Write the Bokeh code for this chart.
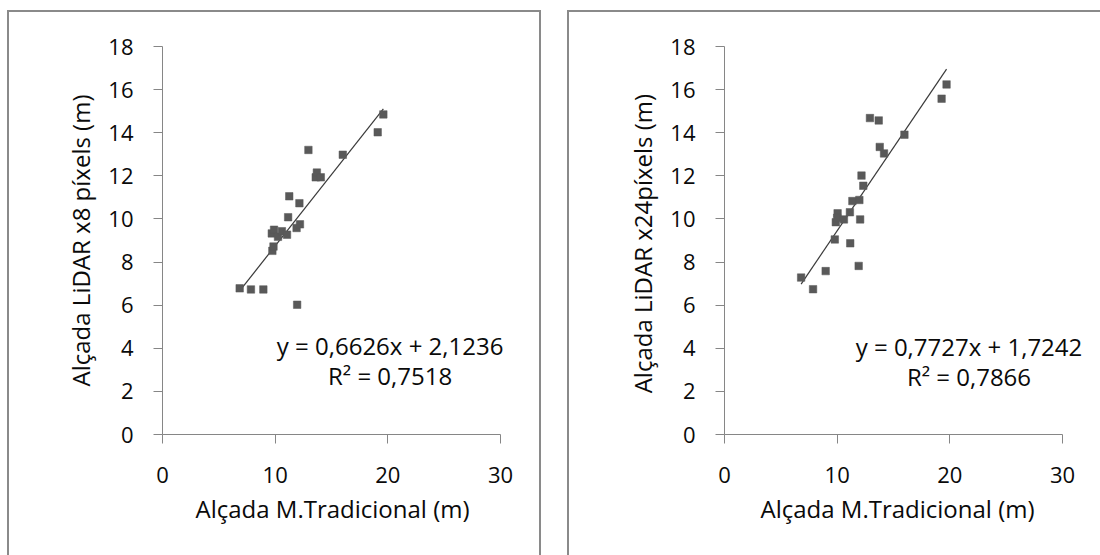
from bokeh.plotting import figure
from bokeh.layouts import row, column
from bokeh.models import Range1d, FixedTicker, Label, Div, Title
from bokeh.embed import file_html
from bokeh.resources import INLINE

# Height measured with the traditional method (m) and LiDAR estimates (m)
x_trad_8 = [6.85, 7.85, 8.95, 11.95, 9.75, 9.85, 9.70, 9.90, 10.25, 10.60, 11.05,
            11.15, 11.25, 12.15, 11.90, 12.20, 12.95, 13.60, 13.70, 14.05, 16.00,
            19.10, 19.60]
y_lidar_8 = [6.78, 6.73, 6.73, 6.02, 8.52, 8.72, 9.33, 9.50, 9.17, 9.43, 9.27,
             10.08, 11.05, 10.73, 9.58, 9.75, 13.20, 11.93, 12.15, 11.93, 12.98,
             14.02, 14.85]

x_trad_24 = [6.80, 7.86, 8.98, 11.91, 9.79, 11.16, 9.88, 10.04, 10.00, 10.60,
             11.13, 12.04, 11.35, 11.97, 12.16, 12.32, 12.91, 13.69, 13.78, 14.16,
             15.97, 19.27, 19.71]
y_lidar_24 = [7.28, 6.74, 7.58, 7.82, 9.05, 8.87, 9.85, 10.26, 10.05, 9.98,
              10.31, 9.98, 10.83, 10.88, 12.01, 11.54, 14.68, 14.57, 13.34, 13.04,
              13.91, 15.58, 16.24]

# Linear trend fits (slope, intercept, R²)
fit_8 = (0.6626, 2.1236, 0.7518)
fit_24 = (0.7727, 1.7242, 0.7866)

x_ticks = [0, 10, 20, 30]
y_ticks = [0, 2, 4, 6, 8, 10, 12, 14, 16, 18]
X_MAX = 30
Y_MAX = 18
x_title = "Alçada M.Tradicional (m)"

FONT = "Open Sans"
AXIS_GREY = "#868686"
TEXT = "#0a0a0a"


def fmt(v):
    return f"{v:.4f}".replace(".", ",")


def panel(xs, ys, fit, ytitle, borders, x_view_end, title_shift, label_x, label_ys):
    b_left, b_right, b_top, b_bottom = borders
    # the visible x window runs a little past the last tick so the fit text has
    # room; the axis line itself stops at X_MAX
    p = figure(width=550, height=555, output_backend="svg", toolbar_location=None,
               x_range=Range1d(0, x_view_end), y_range=Range1d(0, Y_MAX),
               min_border_left=b_left, min_border_right=b_right,
               min_border_top=b_top, min_border_bottom=b_bottom)
    p.outline_line_color = None
    p.xgrid.visible = False
    p.ygrid.visible = False
    p.background_fill_color = "white"
    p.border_fill_color = "white"

    for ax in (p.xaxis[0], p.yaxis[0]):
        ax.axis_line_color = AXIS_GREY
        ax.major_tick_line_color = AXIS_GREY
        ax.minor_tick_line_color = None
        ax.major_tick_out = 9
        ax.major_tick_in = 0
        ax.major_label_text_font = FONT
        ax.major_label_text_font_size = "22px"
        ax.major_label_text_color = TEXT
        ax.axis_label_text_font = FONT
        ax.axis_label_text_font_size = "24px"
        ax.axis_label_text_font_style = "normal"
        ax.axis_label_text_color = TEXT

    p.xaxis.bounds = (0, X_MAX)
    p.xaxis.ticker = FixedTicker(ticks=x_ticks)
    p.yaxis.ticker = FixedTicker(ticks=y_ticks)
    p.yaxis.axis_label = ytitle
    p.xaxis.major_label_standoff = 23
    p.yaxis.major_label_standoff = 20
    p.yaxis.axis_label_standoff = 8

    # x title sits under the axis, centred on the 0..X_MAX span
    p.add_layout(Title(text=x_title, align="left", offset=title_shift,
                       text_font=FONT, text_font_size="24px",
                       text_font_style="normal", text_color=TEXT,
                       standoff=9), "below")

    slope, intercept, r2 = fit
    x0, x1 = min(xs), max(xs)
    p.line([x0, x1], [slope * x0 + intercept, slope * x1 + intercept],
           line_color="#3a3a3a", line_width=1.2)
    p.scatter(xs, ys, marker="square", size=7.5, fill_color="#595959",
              line_color="#595959", line_width=0.5)

    eq_texts = [f"y = {fmt(slope)}x + {fmt(intercept)}", f"R² = {fmt(r2)}"]
    for txt, ly in zip(eq_texts, label_ys):
        p.add_layout(Label(x=label_x, y=ly, text=txt, text_font=FONT,
                           text_font_size="24px", text_color=TEXT,
                           text_align="center", text_baseline="middle"))
    return p


p1 = panel(x_trad_8, y_lidar_8, fit_8, "Alçada LiDAR x8 píxels (m)",
           (162, 20, 44, 119), 32.66, 33, 20.2, [4.12, 2.75])
p2 = panel(x_trad_24, y_lidar_24, fit_24, "Alçada LiDAR x24píxels  (m)",
           (174, 5, 46, 121), 32.93, 36, 21.7, [4.09, 2.70])

# Chart-area frames around each panel (open towards the page edges)
frame_css = ("position:fixed; border:2px solid #8a8a8a; pointer-events:none; "
             "box-sizing:border-box; z-index:10;")
frames = Div(
    text=(f'<div style="{frame_css} left:7px; top:10px; width:534px; height:600px;"></div>'
          f'<div style="{frame_css} left:567px; top:10px; width:600px; height:600px;"></div>'),
    width=0, height=0, margin=0)

layout = column(row(p1, p2, spacing=0), frames, spacing=0)
open("out.html", "w").write(file_html(layout, INLINE))
